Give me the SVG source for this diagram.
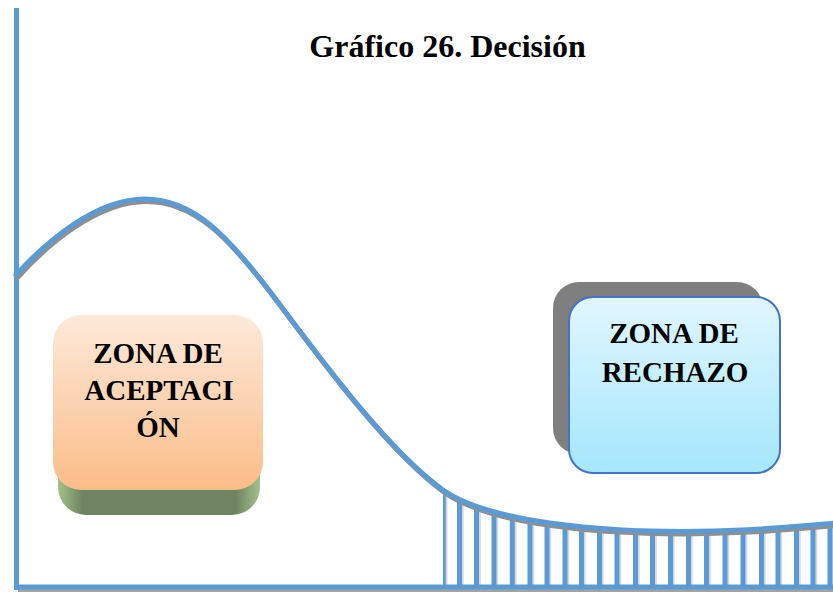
<svg xmlns="http://www.w3.org/2000/svg" width="833" height="592" viewBox="0 0 833 592">
  <style>
    .title { font-family: "Liberation Serif", "Times New Roman", serif; font-weight: bold; font-size: 32px; fill: #000; }
    .label { font-family: "Liberation Serif", "Times New Roman", serif; font-weight: bold; font-size: 29px; fill: #000; text-anchor: middle; }
    .axis { stroke: #5b9bd5; stroke-width: 5; fill: none; }
    .axis-shadow { stroke: #8c8c8c; stroke-width: 5; fill: none; opacity: 0.8; }
    .curve { stroke: #5b9bd5; stroke-width: 5; fill: none; stroke-linecap: round; }
    .curve-shadow { stroke: #8f8f8f; stroke-width: 5; fill: none; stroke-linecap: round; }
    .hatch { stroke: #5b9bd5; stroke-width: 5; }
    .hatch-shadow { stroke: #c8c8c8; stroke-width: 2; opacity: 0.7; }
  </style>
  <defs>
    <linearGradient id="gradAccept" x1="0" y1="0" x2="0" y2="1">
      <stop offset="0" stop-color="#fde9da"/>
      <stop offset="1" stop-color="#fbbd88"/>
    </linearGradient>
    <linearGradient id="gradAcceptBase" x1="0" y1="0" x2="1" y2="0">
      <stop offset="0" stop-color="#a3c18b"/>
      <stop offset="0.12" stop-color="#6f8561"/>
      <stop offset="0.88" stop-color="#6f8561"/>
      <stop offset="1" stop-color="#a3c18b"/>
    </linearGradient>
    <linearGradient id="gradReject" x1="0" y1="0" x2="0" y2="1">
      <stop offset="0" stop-color="#e1f6fe"/>
      <stop offset="1" stop-color="#a4e7fd"/>
    </linearGradient>
    <!-- area under the right tail of the curve -->
    <clipPath id="tailArea">
      <path d="M443,490 C480,516 560,528 650,531 C720,533 780,528 833,523 L833,592 L443,592 Z"/>
    </clipPath>
  </defs>

  <rect width="833" height="592" fill="#ffffff"/>

  <!-- title -->
  <text class="title" x="447.5" y="57" text-anchor="middle">Gráfico 26. Decisión</text>

  <!-- rejection-zone hatching under the tail -->
  <g id="hatching" clip-path="url(#tailArea)">
    <g class="hatch-shadow" transform="translate(3.2,0)">
      <line x1="443.3" y1="470" x2="443.3" y2="588"/>
      <line x1="459.5" y1="470" x2="459.5" y2="588"/>
      <line x1="476.5" y1="470" x2="476.5" y2="588"/>
      <line x1="494" y1="470" x2="494" y2="588"/>
      <line x1="512.3" y1="470" x2="512.3" y2="588"/>
      <line x1="530" y1="470" x2="530" y2="588"/>
      <line x1="547" y1="470" x2="547" y2="588"/>
      <line x1="565" y1="470" x2="565" y2="588"/>
      <line x1="581.5" y1="470" x2="581.5" y2="588"/>
      <line x1="599.5" y1="470" x2="599.5" y2="588"/>
      <line x1="617" y1="470" x2="617" y2="588"/>
      <line x1="635.5" y1="470" x2="635.5" y2="588"/>
      <line x1="652.5" y1="470" x2="652.5" y2="588"/>
      <line x1="670.5" y1="470" x2="670.5" y2="588"/>
      <line x1="688.5" y1="470" x2="688.5" y2="588"/>
      <line x1="706.5" y1="470" x2="706.5" y2="588"/>
      <line x1="725" y1="470" x2="725" y2="588"/>
      <line x1="743" y1="470" x2="743" y2="588"/>
      <line x1="761.5" y1="470" x2="761.5" y2="588"/>
      <line x1="778" y1="470" x2="778" y2="588"/>
      <line x1="796.5" y1="470" x2="796.5" y2="588"/>
      <line x1="813" y1="470" x2="813" y2="588"/>
      <line x1="830" y1="470" x2="830" y2="588"/>
    </g>
    <g class="hatch">
      <line x1="443.3" y1="470" x2="443.3" y2="588"/>
      <line x1="459.5" y1="470" x2="459.5" y2="588"/>
      <line x1="476.5" y1="470" x2="476.5" y2="588"/>
      <line x1="494" y1="470" x2="494" y2="588"/>
      <line x1="512.3" y1="470" x2="512.3" y2="588"/>
      <line x1="530" y1="470" x2="530" y2="588"/>
      <line x1="547" y1="470" x2="547" y2="588"/>
      <line x1="565" y1="470" x2="565" y2="588"/>
      <line x1="581.5" y1="470" x2="581.5" y2="588"/>
      <line x1="599.5" y1="470" x2="599.5" y2="588"/>
      <line x1="617" y1="470" x2="617" y2="588"/>
      <line x1="635.5" y1="470" x2="635.5" y2="588"/>
      <line x1="652.5" y1="470" x2="652.5" y2="588"/>
      <line x1="670.5" y1="470" x2="670.5" y2="588"/>
      <line x1="688.5" y1="470" x2="688.5" y2="588"/>
      <line x1="706.5" y1="470" x2="706.5" y2="588"/>
      <line x1="725" y1="470" x2="725" y2="588"/>
      <line x1="743" y1="470" x2="743" y2="588"/>
      <line x1="761.5" y1="470" x2="761.5" y2="588"/>
      <line x1="778" y1="470" x2="778" y2="588"/>
      <line x1="796.5" y1="470" x2="796.5" y2="588"/>
      <line x1="813" y1="470" x2="813" y2="588"/>
      <line x1="830" y1="470" x2="830" y2="588"/>
    </g>
  </g>

  <!-- axes -->
  <g id="axes">
    <line class="axis-shadow" x1="18" y1="589.5" x2="833" y2="589.5"/>
    <line class="axis" x1="16.5" y1="8" x2="16.5" y2="590"/>
    <line class="axis" x1="14" y1="587" x2="833" y2="587"/>
  </g>

  <!-- distribution curve -->
  <g id="curve">
    <path class="curve-shadow" transform="translate(1.5,2.5)" d="M16,275 C45,243 95,199 145,199 C195,199 230,240 265,285 C300,330 380,445 443,490 C480,516 560,528 650,531 C720,533 780,528 835,523"/>
    <path class="curve" d="M16,275 C45,243 95,199 145,199 C195,199 230,240 265,285 C300,330 380,445 443,490 C480,516 560,528 650,531 C720,533 780,528 835,523"/>
  </g>

  <!-- acceptance zone box -->
  <g id="zona-aceptacion">
    <rect x="58" y="340" width="202" height="175" rx="28" fill="url(#gradAcceptBase)"/>
    <rect x="53" y="315" width="210" height="175" rx="28" fill="url(#gradAccept)"/>
    <text class="label" x="158" y="363">ZONA DE</text>
    <text class="label" x="159" y="400">ACEPTACI</text>
    <text class="label" x="158" y="437">ÓN</text>
  </g>

  <!-- rejection zone box -->
  <g id="zona-rechazo">
    <rect x="553" y="282" width="210" height="172" rx="26" fill="#7f7f7f"/>
    <rect x="569" y="297" width="211" height="176" rx="24" fill="url(#gradReject)" stroke="#4472c4" stroke-width="2"/>
    <text class="label" x="674" y="343">ZONA DE</text>
    <text class="label" x="675" y="382">RECHAZO</text>
  </g>
</svg>
